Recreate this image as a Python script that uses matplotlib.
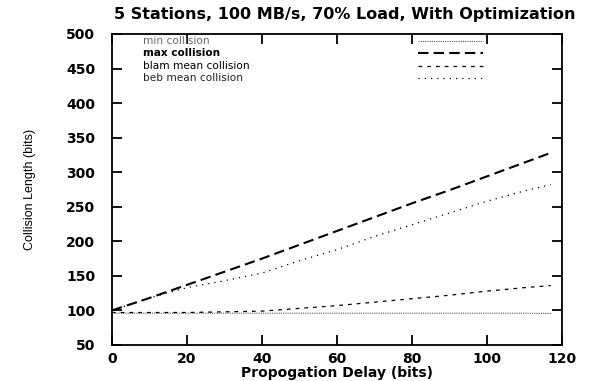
import matplotlib
matplotlib.use('Agg')
import matplotlib.pyplot as plt

# propagation delay (bits) and collision lengths (bits)
delay = [0, 10, 20, 30, 40, 50, 60, 70, 80, 90, 100, 110, 117]
min_collision = [96, 96, 96, 96, 96, 96, 96, 96, 96, 96, 96, 96, 95.5]
max_collision = [100, 118, 137, 156, 175, 195, 215, 235, 255, 274, 294, 314, 328]
blam_mean = [97, 97, 97, 98, 99, 103, 107, 112, 117, 122, 128, 133, 136]
beb_mean = [100, 118, 133, 143, 154, 172, 188, 207, 224, 241, 258, 273, 282]

labels = ['min collision', 'max collision', 'blam mean collision', 'beb mean collision']
series = [min_collision, max_collision, blam_mean, beb_mean]
styles = [
    dict(color='#555555', linewidth=0.8, linestyle=(0, (1, 1))),
    dict(color='black', linewidth=1.5, linestyle=(0, (5, 2.5))),
    dict(color='black', linewidth=0.9, linestyle=(0, (3, 4))),
    dict(color='black', linewidth=0.9, linestyle=(0, (1, 4))),
]
label_styles = [
    dict(color='#666666', fontweight='normal'),
    dict(color='black', fontweight='bold'),
    dict(color='black', fontweight='normal'),
    dict(color='#222222', fontweight='normal'),
]

fig = plt.figure(figsize=(6.03, 3.81), dpi=100)
ax = fig.add_axes([0.1857, 0.0945, 0.7463, 0.8163])

for y, st in zip(series, styles):
    ax.plot(delay, y, **st)

# gnuplot-style key: label on the left, line sample on the right
key_rows = [0.978, 0.938, 0.898, 0.858]
for lab, st, lst, yy in zip(labels, styles, label_styles, key_rows):
    ax.text(0.069, yy, lab, transform=ax.transAxes, fontsize=7.6,
            va='center', ha='left', **lst)
    ax.plot([0.68, 0.824], [yy, yy], transform=ax.transAxes, **st)

ax.set_xlim(0, 120)
ax.set_ylim(50, 500)
ax.set_xticks(range(0, 121, 20))
ax.set_yticks(range(50, 501, 50))
ax.tick_params(direction='in', top=True, right=True, length=7, width=1.3,
               labelsize=10)
ax.tick_params(axis='y', pad=12)
ax.tick_params(axis='x', pad=5)
for lbl in ax.get_xticklabels() + ax.get_yticklabels():
    lbl.set_fontweight('bold')
for sp in ax.spines.values():
    sp.set_linewidth(1.3)

ax.set_xlabel('Propogation Delay (bits)', fontsize=10, fontweight='bold', labelpad=0)
ax.set_ylabel('Collision Length (bits)', fontsize=9, family='Liberation Sans',
              labelpad=22)

fig.text(0.572, 0.961, '5 Stations, 100 MB/s, 70% Load, With Optimization',
         ha='center', va='center', fontsize=11.5, fontweight='bold')

plt.savefig('out.png', dpi=100)
plt.close()
